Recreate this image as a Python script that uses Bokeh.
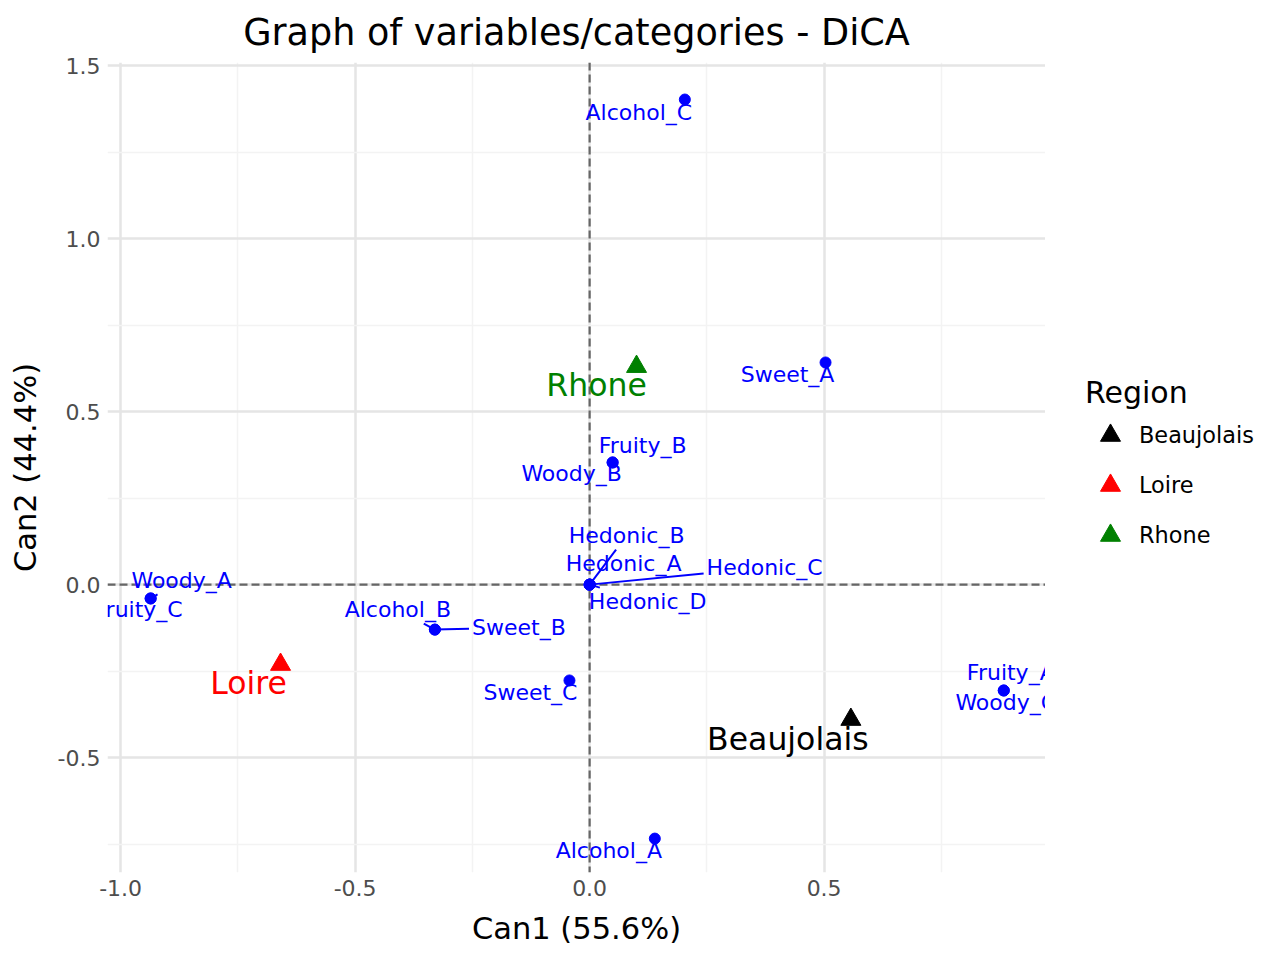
import math

from bokeh.core.properties import value
from bokeh.embed import file_html
from bokeh.layouts import row
from bokeh.models import (ColumnDataSource, FixedTicker, Legend, LegendItem,
                          PrintfTickFormatter, Range1d, Span)
from bokeh.plotting import figure
from bokeh.resources import INLINE

# --- data -------------------------------------------------------------------
# category coordinates on the two canonical axes
categories = ["Alcohol_A", "Alcohol_B", "Alcohol_C",
              "Sweet_A", "Sweet_B", "Sweet_C",
              "Fruity_A", "Fruity_B", "Fruity_C",
              "Woody_A", "Woody_B", "Woody_C",
              "Hedonic_A", "Hedonic_B", "Hedonic_C", "Hedonic_D"]
can1 = [0.139, -0.330, 0.203,
        0.503, -0.330, -0.043,
        0.883, 0.049, -0.936,
        -0.936, 0.049, 0.883,
        0.000, 0.000, 0.000, 0.000]
can2 = [-0.734, -0.130, 1.402,
        0.642, -0.130, -0.277,
        -0.306, 0.353, -0.040,
        -0.040, 0.353, -0.306,
        0.000, 0.000, 0.000, 0.000]

# group (region) barycentres
regions = ["Beaujolais", "Loire", "Rhone"]
region_can1 = [0.557, -0.659, 0.100]
region_can2 = [-0.390, -0.231, 0.630]

x_ticks = [-1.0, -0.5, 0.0, 0.5]
y_ticks = [-0.5, 0.0, 0.5, 1.0, 1.5]
x_minor = [-0.75, -0.25, 0.25, 0.75]
y_minor = [-0.75, -0.25, 0.25, 0.75, 1.25]

# --- layout / style ---------------------------------------------------------
FONT = "DejaVu Sans"
MAIN_W, LEG_W, H = 1045, 235, 960
BORDER_L, BORDER_T, BORDER_B = 107, 62, 88
X0, X1 = -1.028, 0.972
Y0, Y1 = -0.832, 1.509
FRAME_W = MAIN_W - BORDER_L
FRAME_H = H - BORDER_T - BORDER_B
PX_X = FRAME_W / (X1 - X0)
PX_Y = FRAME_H / (Y1 - Y0)

region_colors = {"Beaujolais": "black", "Loire": "red", "Rhone": "#008000"}

# repelled label placement, screen pixels (right, down) from each point
label_nudge = {
    "Alcohol_A": (-46, 12), "Alcohol_B": (-37, -20), "Alcohol_C": (-46, 13),
    "Sweet_A": (-38, 12), "Sweet_B": (84, -2), "Sweet_C": (-39, 12),
    "Fruity_A": (7, -18), "Fruity_B": (30, -17), "Fruity_C": (-12, 11),
    "Woody_A": (31, -18), "Woody_B": (-41, 11), "Woody_C": (2, 12),
    "Hedonic_A": (34, -21), "Hedonic_B": (37, -49), "Hedonic_C": (175, -17),
    "Hedonic_D": (58, 17),
}
with_segment = {"Hedonic_B", "Hedonic_C", "Hedonic_D", "Sweet_B", "Alcohol_B", "Woody_A"}
region_nudge = {"Beaujolais": (-63, 19), "Loire": (-32, 18), "Rhone": (-40, 18)}

LABEL_PX = 22
# DejaVu Sans advance widths (em) for the glyphs used in the labels
ADV = {"A": .684, "C": .698, "B": .686, "D": .770, "F": .575, "H": .752,
       "S": .635, "W": .989, "_": .5, "a": .613, "c": .550, "d": .635,
       "e": .615, "h": .634, "i": .278, "l": .278, "n": .634, "o": .612,
       "r": .411, "t": .392, "u": .634, "w": .818, "y": .592}


def text_width(s, size):
    return sum(ADV.get(ch, 0.6) for ch in s) * size


# --- main panel -------------------------------------------------------------
p = figure(width=MAIN_W, height=H, x_range=Range1d(X0, X1), y_range=Range1d(Y0, Y1),
           output_backend="svg", toolbar_location=None,
           min_border_left=BORDER_L, min_border_right=0,
           min_border_top=BORDER_T, min_border_bottom=BORDER_B)
p.outline_line_color = None
p.background_fill_color = "white"
p.border_fill_color = "white"

p.title.text = "Graph of variables/categories - DiCA"
p.title.align = "center"
p.title.vertical_align = "bottom"
p.title.text_font = FONT
p.title.text_font_size = "36.6px"
p.title.text_font_style = "normal"
p.title.text_color = "black"
p.title.standoff = 17

p.xaxis.ticker = FixedTicker(ticks=x_ticks, minor_ticks=x_minor)
p.yaxis.ticker = FixedTicker(ticks=y_ticks, minor_ticks=y_minor)
p.xaxis.axis_label = "Can1 (55.6%)"
p.yaxis.axis_label = "Can2 (44.4%)"
for ax in (p.xaxis[0], p.yaxis[0]):
    ax.formatter = PrintfTickFormatter(format="%.1f")
    ax.axis_line_color = None
    ax.major_tick_line_color = None
    ax.minor_tick_line_color = None
    ax.major_tick_out = 0
    ax.major_tick_in = 0
    ax.minor_tick_out = 0
    ax.major_label_text_font = FONT
    ax.major_label_text_font_size = "22px"
    ax.major_label_text_color = "#4d4d4d"
    ax.axis_label_text_font = FONT
    ax.axis_label_text_font_size = "30.5px"
    ax.axis_label_text_font_style = "normal"
    ax.axis_label_text_color = "black"
    ax.major_label_standoff = 7
    ax.axis_label_standoff = 12

for g in (p.xgrid[0], p.ygrid[0]):
    g.grid_line_color = "#e5e5e5"
    g.grid_line_width = 2.5
    g.minor_grid_line_color = "#f3f3f3"
    g.minor_grid_line_width = 1.5

for dim in ("width", "height"):
    p.add_layout(Span(location=0, dimension=dim, line_color="#666666",
                      line_width=2.2, line_dash="8 4", level="underlay"))

# category points
cat_src = ColumnDataSource(dict(x=can1, y=can2, name=categories))
p.scatter("x", "y", source=cat_src, size=11, color="blue", marker="circle")

# repel segments from label box edge to the point
sx0, sy0, sx1, sy1 = [], [], [], []
ldx, ldy = [], []
for name, x, y in zip(categories, can1, can2):
    dx, dy = label_nudge[name]
    ldx.append(dx)
    ldy.append(dy)
    if name not in with_segment:
        continue
    hw = text_width(name, LABEL_PX) / 2 + 3
    hh = LABEL_PX / 2 + 3
    vx, vy = -dx, -dy
    t = min(hw / abs(vx) if vx else math.inf, hh / abs(vy) if vy else math.inf)
    if t >= 1:
        continue
    sx0.append(x + (dx + t * vx) / PX_X)
    sy0.append(y - (dy + t * vy) / PX_Y)
    sx1.append(x)
    sy1.append(y)

p.segment(x0=sx0, y0=sy0, x1=sx1, y1=sy1, line_color="blue", line_width=2)

lab_src = ColumnDataSource(dict(x=can1, y=can2, dx=ldx, dy=ldy, name=categories))
p.text("x", "y", text="name", source=lab_src, x_offset="dx", y_offset="dy",
       text_align="center", text_baseline="middle", text_color="blue",
       text_font=value(FONT), text_font_size=f"{LABEL_PX}px")

# region barycentres
for reg, x, y in zip(regions, region_can1, region_can2):
    col = region_colors[reg]
    p.scatter([x], [y], marker="triangle", size=20, color=col)
    dx, dy = region_nudge[reg]
    p.text([x], [y], text=[reg], x_offset=dx, y_offset=dy, text_align="center",
           text_baseline="middle", text_color=col, text_font=value(FONT),
           text_font_size="31.5px")

# --- legend panel -----------------------------------------------------------
lg = figure(width=LEG_W, height=H, x_range=Range1d(0, 1), y_range=Range1d(0, 1),
            output_backend="svg", toolbar_location=None,
            x_axis_type=None, y_axis_type=None,
            min_border=0, min_border_left=0, min_border_right=0,
            min_border_top=0, min_border_bottom=0)
lg.outline_line_color = None
lg.background_fill_color = "white"
lg.border_fill_color = "white"

# key renderers carry only the style; their single point is undefined
legend_items = []
for reg in regions:
    key = lg.scatter(x=[math.nan], y=[math.nan], marker="triangle", size=20,
                     color=region_colors[reg])
    legend_items.append(LegendItem(label=reg, renderers=[key]))

legend = Legend(items=legend_items, title="Region", location=(40, 312),
                orientation="vertical")
legend.title_text_font = FONT
legend.title_text_font_size = "30px"
legend.title_text_font_style = "normal"
legend.title_text_color = "black"
legend.title_standoff = 0
legend.label_text_font = FONT
legend.label_text_font_size = "22.4px"
legend.label_text_color = "black"
legend.glyph_width = 50
legend.glyph_height = 50
legend.label_standoff = 4
legend.spacing = 0
legend.padding = 6
legend.margin = 0
legend.border_line_color = None
legend.background_fill_alpha = 0
lg.add_layout(legend, "center")

layout = row(p, lg, spacing=0)
open("out.html", "w").write(file_html(layout, INLINE))
